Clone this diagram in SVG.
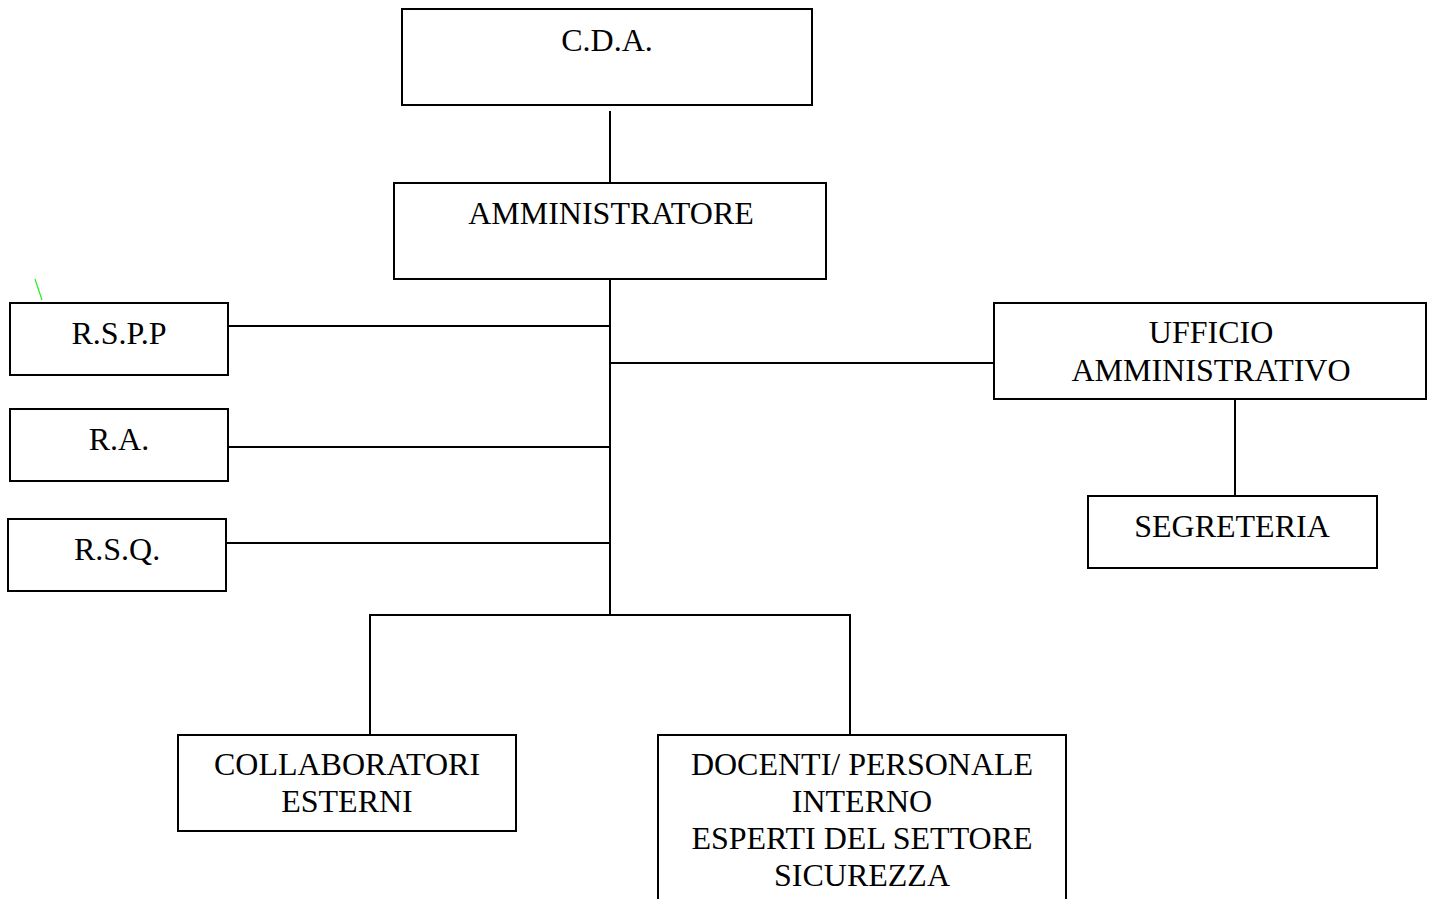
<svg xmlns="http://www.w3.org/2000/svg" width="1433" height="899" viewBox="0 0 1433 899">
<style>
.box{fill:#fff;stroke:#000;stroke-width:2}
.c{stroke:#000;stroke-width:2;fill:none}
text{font-family:"Liberation Serif","Times New Roman",serif;font-size:32px;fill:#000;text-anchor:middle}
</style>
<rect width="1433" height="899" fill="#fff"/>
<g id="connectors">
<line class="c" x1="610" y1="111" x2="610" y2="183"/>
<line class="c" x1="610" y1="279" x2="610" y2="615"/>
<line class="c" x1="228" y1="326" x2="610" y2="326"/>
<line class="c" x1="228" y1="447" x2="610" y2="447"/>
<line class="c" x1="226" y1="543" x2="610" y2="543"/>
<line class="c" x1="610" y1="363" x2="994" y2="363"/>
<line class="c" x1="1235" y1="399" x2="1235" y2="496"/>
<polyline class="c" points="370,735 370,615 850,615 850,735"/>
<line x1="35" y1="279" x2="42" y2="300" stroke="#22ee22" stroke-width="1.2"/>
</g>
<g id="cda"><rect class="box" x="402" y="9" width="410" height="96"/><text x="607" y="51">C.D.A.</text></g>
<g id="amministratore"><rect class="box" x="394" y="183" width="432" height="96"/><text x="611" y="224">AMMINISTRATORE</text></g>
<g id="rspp"><rect class="box" x="10" y="303" width="218" height="72"/><text x="119" y="344">R.S.P.P</text></g>
<g id="ra"><rect class="box" x="10" y="409" width="218" height="72"/><text x="119" y="450">R.A.</text></g>
<g id="rsq"><rect class="box" x="8" y="519" width="218" height="72"/><text x="117" y="560">R.S.Q.</text></g>
<g id="ufficio"><rect class="box" x="994" y="303" width="432" height="96"/><text x="1211" y="343">UFFICIO</text><text x="1211" y="381">AMMINISTRATIVO</text></g>
<g id="segreteria"><rect class="box" x="1088" y="496" width="289" height="72"/><text x="1232" y="537">SEGRETERIA</text></g>
<g id="collaboratori"><rect class="box" x="178" y="735" width="338" height="96"/><text x="347" y="775">COLLABORATORI</text><text x="347" y="812">ESTERNI</text></g>
<g id="docenti"><rect class="box" x="658" y="735" width="408" height="180"/><text x="862" y="775">DOCENTI/ PERSONALE</text><text x="862" y="812">INTERNO</text><text x="862" y="849">ESPERTI DEL SETTORE</text><text x="862" y="886">SICUREZZA</text></g>
</svg>
